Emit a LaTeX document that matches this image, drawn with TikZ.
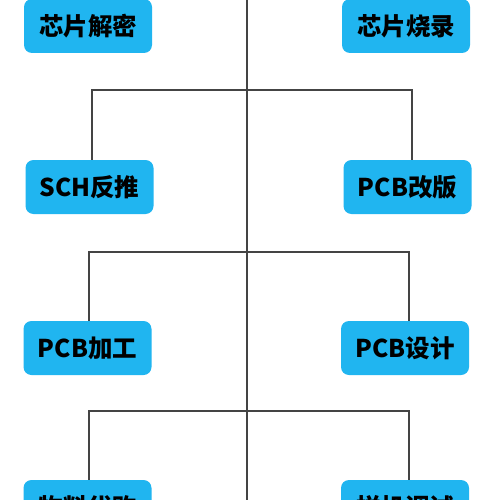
\documentclass[tikz,border=0pt]{standalone}
\usepackage{fontspec}
\newfontfamily\cjk{Noto Sans CJK SC}[BoldFont={Noto Sans CJK SC Black}]
\definecolor{boxblue}{RGB}{32,181,240}
\definecolor{linegray}{RGB}{68,68,68}
\tikzset{
  stepbox/.style={rectangle, rounded corners=8pt, fill=boxblue, minimum width=128pt, minimum height=54pt, inner sep=0pt, font=\cjk\bfseries\fontsize{24.5}{24.5}\selectfont, text=black},
  conn/.style={draw=linegray, line width=1.9pt}
}
\begin{document}
\begin{tikzpicture}[x=1pt,y=-1pt]
\useasboundingbox (0,0) rectangle (500,500);
\clip (0,0) rectangle (500,500);
\fill[white] (0,0) rectangle (500,500);
% nodes
\node[stepbox] (a1) at (88,26) {芯片解密};
\node[stepbox] (b1) at (406,26) {芯片烧录};
\node[stepbox] (a2) at (89.5,187) {SCH反推};
\node[stepbox] (b2) at (407.5,187) {PCB改版};
\node[stepbox] (a3) at (87.5,348) {PCB加工};
\node[stepbox] (b3) at (405,348) {PCB设计};
\node[stepbox] (a4) at (87.5,507) {物料代购};
\node[stepbox] (b4) at (405,507) {样机调试};
% trunk
\coordinate (top) at (247,-5);
\coordinate (bot) at (247,505);
\coordinate (j1) at (247,90);
\coordinate (j2) at (247,252);
\coordinate (j3) at (247,411);
\draw[conn] (top) -- (bot);
\draw[conn] ([xshift=2.5pt]a2.north) |- (j1) -| ([xshift=4.5pt]b2.north);
\draw[conn] ([xshift=1.5pt]a3.north) |- (j2) -| ([xshift=4pt]b3.north);
\draw[conn] ([xshift=1.5pt]a4.north) |- (j3) -| ([xshift=4pt]b4.north);
\end{tikzpicture}
\end{document}
